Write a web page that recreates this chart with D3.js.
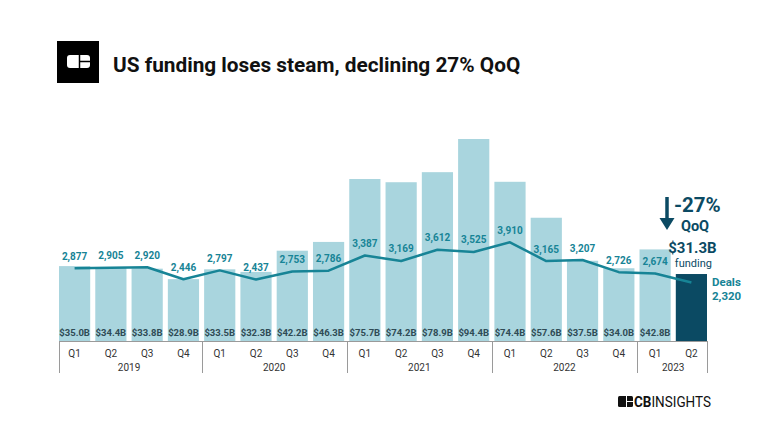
<!DOCTYPE html>
<html>
<head>
<meta charset="utf-8">
<script src="https://cdn.jsdelivr.net/npm/d3@7"></script>
<style>
  html, body { margin: 0; padding: 0; background: #fff; }
  svg { display: block; font-family: Roboto, "Noto Sans", sans-serif; }
</style>
</head>
<body>
<svg id="chart" width="768" height="432"></svg>
<script>
const quarters = ["Q1","Q2","Q3","Q4","Q1","Q2","Q3","Q4","Q1","Q2","Q3","Q4","Q1","Q2","Q3","Q4","Q1","Q2"];
const years = ["2019","2019","2019","2019","2020","2020","2020","2020","2021","2021","2021","2021","2022","2022","2022","2022","2023","2023"];
const yearLabels = ["2019","2020","2021","2022","2023"];
const funding = [35.0,34.4,33.8,28.9,33.5,32.3,42.2,46.3,75.7,74.2,78.9,94.4,74.4,57.6,37.5,34.0,42.8,31.3];
const fundingLabels = ["$35.0B","$34.4B","$33.8B","$28.9B","$33.5B","$32.3B","$42.2B","$46.3B","$75.7B","$74.2B","$78.9B","$94.4B","$74.4B","$57.6B","$37.5B","$34.0B","$42.8B","$31.3B"];
const deals = [2877,2905,2920,2446,2797,2437,2753,2786,3387,3169,3612,3525,3910,3165,3207,2726,2674,2320];

const svg = d3.select("#chart");
const keys = quarters.map((q, i) => years[i] + " " + q);

const x = d3.scaleBand().domain(keys).range([59, 707]).paddingInner(0.14).paddingOuter(0);
const yF = d3.scaleLinear().domain([0, 94.4]).range([341, 139]);
const yD = d3.scaleLinear().domain([0, 8000]).range([341, 139]);

const light = "#a9d5de", dark = "#0b4a63", teal = "#178496", labelDark = "#2f4b55";
const last = keys.length - 1;

// Title block
svg.append("rect").attr("x", 57).attr("y", 41).attr("width", 42).attr("height", 42).attr("fill", "#000");
svg.append("rect").attr("x", 67).attr("y", 55).attr("width", 23).attr("height", 13).attr("rx", 3).attr("fill", "#fff");
svg.append("line").attr("x1", 79.5).attr("x2", 79.5).attr("y1", 55).attr("y2", 68).attr("stroke", "#000").attr("stroke-width", 1.5);
svg.append("line").attr("x1", 79.5).attr("x2", 90).attr("y1", 61.5).attr("y2", 61.5).attr("stroke", "#000").attr("stroke-width", 1.5);
svg.append("text").attr("x", 113).attr("y", 72).attr("font-size", 20.8).attr("font-weight", 700)
  .attr("fill", "#111").text("US funding loses steam, declining 27% QoQ");

// Bars
svg.append("g").selectAll("rect").data(funding).join("rect")
  .attr("x", (d, i) => x(keys[i]))
  .attr("width", x.bandwidth())
  .attr("y", d => yF(d))
  .attr("height", d => yF(0) - yF(d))
  .attr("fill", (d, i) => i === last ? dark : light);

// Bar value labels
svg.append("g").selectAll("text").data(fundingLabels.slice(0, last)).join("text")
  .attr("x", (d, i) => x(keys[i]) + x.bandwidth() / 2)
  .attr("y", 336)
  .attr("text-anchor", "middle")
  .attr("font-size", 9.5).attr("font-weight", 700)
  .attr("fill", labelDark)
  .text(d => d);

// Deals line
const line = d3.line().x((d, i) => x(keys[i]) + x.bandwidth() / 2).y(d => yD(d));
svg.append("path").datum(deals).attr("d", line)
  .attr("fill", "none").attr("stroke", teal).attr("stroke-width", 2.5).attr("stroke-linejoin", "round");

// Deal labels
svg.append("g").selectAll("text").data(deals.slice(0, last)).join("text")
  .attr("x", (d, i) => x(keys[i]) + x.bandwidth() / 2)
  .attr("y", d => yD(d) - 8.5)
  .attr("text-anchor", "middle")
  .attr("font-size", 10).attr("font-weight", 700)
  .attr("fill", teal)
  .text(d => d3.format(",")(d));

// Axis
const axisColor = "#9a9a9a";
const ax = svg.append("g");
ax.append("line").attr("x1", 59).attr("x2", 707).attr("y1", 341.5).attr("y2", 341.5).attr("stroke", axisColor);
const step = x.step(), gap = step * x.paddingInner();
const seps = [59, 707];
yearLabels.forEach((yr) => {
  const idx = years.indexOf(yr);
  if (idx > 0) seps.push(x(keys[idx]) - gap / 2);
});
ax.selectAll("line.sep").data(seps).join("line").attr("class", "sep")
  .attr("x1", d => Math.round(d) + 0.5).attr("x2", d => Math.round(d) + 0.5)
  .attr("y1", 341).attr("y2", 373).attr("stroke", axisColor);
ax.selectAll("text.q").data(quarters).join("text").attr("class", "q")
  .attr("x", (d, i) => x(keys[i]) + x.bandwidth() / 2)
  .attr("y", 357).attr("text-anchor", "middle").attr("font-size", 10).attr("fill", "#333").text(d => d);
ax.selectAll("text.yr").data(yearLabels).join("text").attr("class", "yr")
  .attr("x", yr => {
    const idxs = keys.map((k, i) => i).filter(i => years[i] === yr);
    const a = x(keys[idxs[0]]), b = x(keys[idxs[idxs.length - 1]]) + x.bandwidth();
    return (a + b) / 2;
  })
  .attr("y", 371).attr("text-anchor", "middle").attr("font-size", 10).attr("fill", "#333").text(d => d);

// Annotation for last quarter
const lx = x(keys[last]) + x.bandwidth() / 2;
svg.append("line").attr("x1", 667).attr("x2", 667).attr("y1", 197).attr("y2", 220)
  .attr("stroke", dark).attr("stroke-width", 3.5);
svg.append("path").attr("d", "M659.5,218 L674.5,218 L667,230 Z").attr("fill", dark);
svg.append("text").attr("x", 674).attr("y", 212).attr("font-size", 20.5).attr("font-weight", 700)
  .attr("fill", dark).text("-27%");
svg.append("text").attr("x", 695).attr("y", 231).attr("text-anchor", "middle").attr("font-size", 14.5).attr("font-weight", 700)
  .attr("fill", dark).text("QoQ");
svg.append("text").attr("x", lx + 1).attr("y", 253).attr("text-anchor", "middle").attr("font-size", 15).attr("font-weight", 700)
  .attr("fill", dark).text(fundingLabels[last]);
svg.append("text").attr("x", lx + 2).attr("y", 267).attr("text-anchor", "middle").attr("font-size", 11)
  .attr("fill", dark).text("funding");
svg.append("text").attr("x", 712).attr("y", 286).attr("font-size", 11.5).attr("font-weight", 700)
  .attr("fill", teal).text("Deals");
svg.append("text").attr("x", 712).attr("y", 300).attr("font-size", 11.5).attr("font-weight", 700)
  .attr("fill", teal).text(d3.format(",")(deals[last]));

// Footer logo
svg.append("rect").attr("x", 618).attr("y", 396).attr("width", 15).attr("height", 11).attr("rx", 1.5).attr("fill", "#111");
svg.append("line").attr("x1", 626.5).attr("x2", 626.5).attr("y1", 396).attr("y2", 407).attr("stroke", "#fff").attr("stroke-width", 1);
svg.append("line").attr("x1", 626.5).attr("x2", 633).attr("y1", 401.5).attr("y2", 401.5).attr("stroke", "#fff").attr("stroke-width", 1);
const ft = svg.append("text").attr("x", 634).attr("y", 407).attr("font-size", 14).attr("fill", "#111")
  .attr("textLength", 77).attr("lengthAdjust", "spacingAndGlyphs");
ft.append("tspan").attr("font-weight", 700).text("CB");
ft.append("tspan").attr("font-weight", 400).text("INSIGHTS");
</script>
</body>
</html>
